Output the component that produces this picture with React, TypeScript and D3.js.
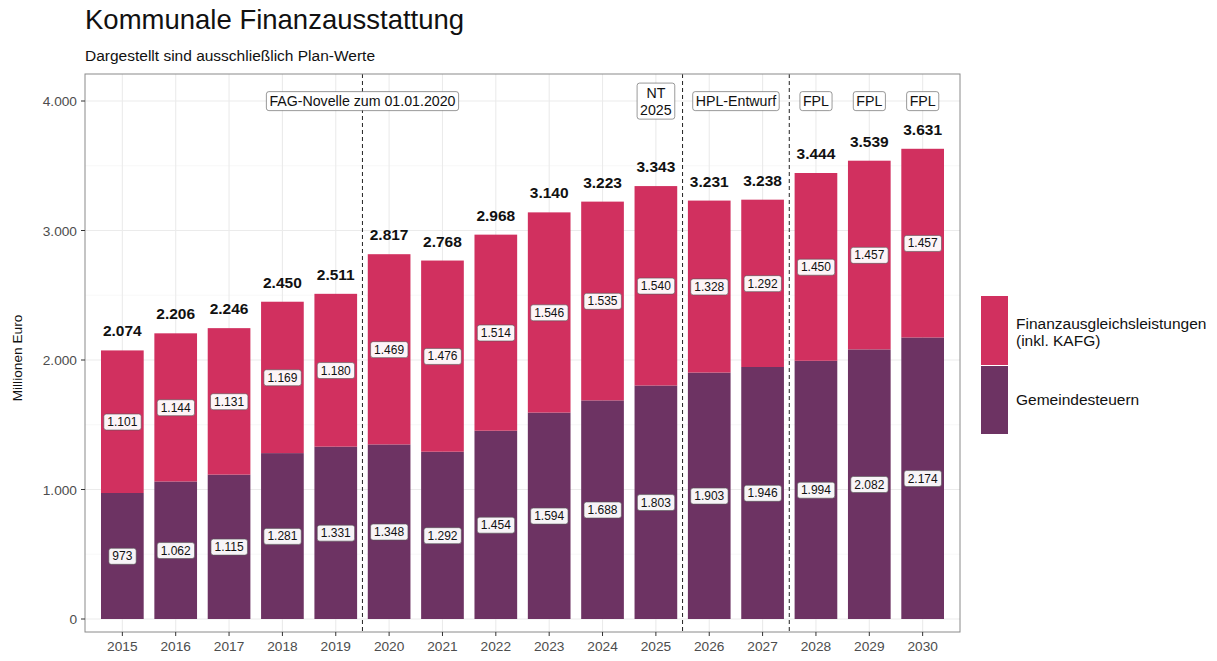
import { useEffect, useRef } from "react";
import * as d3 from "d3";

const years = ["2015", "2016", "2017", "2018", "2019", "2020", "2021", "2022", "2023", "2024", "2025", "2026", "2027", "2028", "2029", "2030"];
const gemeindesteuern = [973, 1062, 1115, 1281, 1331, 1348, 1292, 1454, 1594, 1688, 1803, 1903, 1946, 1994, 2082, 2174];
const finanzausgleich = [1101, 1144, 1131, 1169, 1180, 1469, 1476, 1514, 1546, 1535, 1540, 1328, 1292, 1450, 1457, 1457];
const yTicks = [0, 1000, 2000, 3000, 4000];
const dividers = [4.5, 10.5, 12.5]; // band index positions (between 2019/2020, 2025/2026, 2027/2028)
const notes = [
  { pos: 4.5, lines: ["FAG-Novelle zum 01.01.2020"] },
  { pos: 10, lines: ["NT", "2025"] },
  { pos: 11.5, lines: ["HPL-Entwurf"] },
  { pos: 13, lines: ["FPL"] },
  { pos: 14, lines: ["FPL"] },
  { pos: 15, lines: ["FPL"] },
];

const COL_FAG = "#d1305f";
const COL_GEM = "#6d3363";
const FONT = "'Liberation Sans', Arial, Helvetica, sans-serif";

const de = d3.formatLocale({ decimal: ",", thousands: ".", grouping: [3], currency: ["", " €"] });
const fmt = de.format(",d");

const App = () => {
  const svgRef = useRef<SVGSVGElement>(null);

  useEffect(() => {
    const svg = d3.select(svgRef.current);
    svg.selectAll("*").remove();
    svg.style("font-family", FONT);

    const left = 85, right = 960, top = 74, bottom = 632;
    const x = d3.scaleBand().domain(years).range([left, right]).paddingInner(0.2).paddingOuter(0.3);
    const step = x.step();
    const center = (i: number) => x(years[0])! + x.bandwidth() / 2 + i * step;
    const y = d3.scaleLinear().domain([0, 4000]).range([619, 101]);

    // panel background grid
    const minor = [500, 1500, 2500, 3500];
    svg.append("g").selectAll("line").data(minor).enter().append("line")
      .attr("x1", left).attr("x2", right).attr("y1", (d) => y(d)).attr("y2", (d) => y(d))
      .attr("stroke", "#f3f3f3").attr("stroke-width", 0.6);
    svg.append("g").selectAll("line").data(yTicks).enter().append("line")
      .attr("x1", left).attr("x2", right).attr("y1", (d) => y(d)).attr("y2", (d) => y(d))
      .attr("stroke", "#ebebeb").attr("stroke-width", 1.1);
    svg.append("g").selectAll("line").data(years).enter().append("line")
      .attr("x1", (d) => x(d)! + x.bandwidth() / 2).attr("x2", (d) => x(d)! + x.bandwidth() / 2)
      .attr("y1", top).attr("y2", bottom).attr("stroke", "#ebebeb").attr("stroke-width", 1.1);

    // bars
    const totals = years.map((_, i) => gemeindesteuern[i] + finanzausgleich[i]);
    svg.append("g").selectAll("rect").data(years).enter().append("rect")
      .attr("x", (d) => x(d)!).attr("width", x.bandwidth())
      .attr("y", (d, i) => y(gemeindesteuern[i])).attr("height", (d, i) => y(0) - y(gemeindesteuern[i]))
      .attr("fill", COL_GEM);
    svg.append("g").selectAll("rect").data(years).enter().append("rect")
      .attr("x", (d) => x(d)!).attr("width", x.bandwidth())
      .attr("y", (d, i) => y(totals[i])).attr("height", (d, i) => y(gemeindesteuern[i]) - y(totals[i]))
      .attr("fill", COL_FAG);

    // dashed dividers
    svg.append("g").selectAll("line").data(dividers).enter().append("line")
      .attr("x1", (d) => center(d)).attr("x2", (d) => center(d))
      .attr("y1", top).attr("y2", bottom)
      .attr("stroke", "#222").attr("stroke-width", 1).attr("stroke-dasharray", "4,3");

    // boxed label helper
    const boxLabel = (g: any, cx: number, cy: number, lines: string[], size: number, padX: number, padY: number) => {
      const grp = g.append("g");
      const lh = size * 1.2;
      const t = grp.append("text").attr("text-anchor", "middle").style("font-size", `${size}px`).attr("fill", "#111");
      lines.forEach((l, k) => {
        t.append("tspan").attr("x", cx).attr("y", cy + (k - (lines.length - 1) / 2) * lh + size * 0.36).text(l);
      });
      const bb = (t.node() as SVGTextElement).getBBox();
      grp.insert("rect", "text")
        .attr("x", bb.x - padX).attr("y", bb.y - padY)
        .attr("width", bb.width + 2 * padX).attr("height", bb.height + 2 * padY)
        .attr("rx", 2.5).attr("fill", "#fff").attr("fill-opacity", 0.95)
        .attr("stroke", "#555").attr("stroke-width", 0.6);
    };

    const labels = svg.append("g");
    years.forEach((_, i) => {
      boxLabel(labels, center(i), (y(0) + y(gemeindesteuern[i])) / 2, [fmt(gemeindesteuern[i])], 12, 3.5, 1);
      boxLabel(labels, center(i), (y(gemeindesteuern[i]) + y(totals[i])) / 2, [fmt(finanzausgleich[i])], 12, 3.5, 1);
    });

    // totals above bars
    svg.append("g").selectAll("text").data(years).enter().append("text")
      .attr("x", (d) => x(d)! + x.bandwidth() / 2).attr("y", (d, i) => y(totals[i]) - 14)
      .attr("text-anchor", "middle").style("font-size", "15.5px").style("font-weight", "bold").attr("fill", "#111")
      .text((d, i) => fmt(totals[i]));

    // notes
    const noteG = svg.append("g");
    notes.forEach((n) => boxLabel(noteG, center(n.pos), y(4000), n.lines, 14.2, 3, 1.5));

    // panel border
    svg.append("rect").attr("x", left).attr("y", top).attr("width", right - left).attr("height", bottom - top)
      .attr("fill", "none").attr("stroke", "#8a8a8a").attr("stroke-width", 1);

    // y axis
    const ya = svg.append("g");
    ya.selectAll("line").data(yTicks).enter().append("line")
      .attr("x1", left - 4).attr("x2", left).attr("y1", (d) => y(d)).attr("y2", (d) => y(d)).attr("stroke", "#333");
    ya.selectAll("text").data(yTicks).enter().append("text")
      .attr("x", left - 8).attr("y", (d) => y(d) + 5).attr("text-anchor", "end")
      .style("font-size", "13.7px").attr("fill", "#4d4d4d").text((d) => fmt(d));

    // x axis
    const xa = svg.append("g");
    xa.selectAll("line").data(years).enter().append("line")
      .attr("x1", (d) => x(d)! + x.bandwidth() / 2).attr("x2", (d) => x(d)! + x.bandwidth() / 2)
      .attr("y1", bottom).attr("y2", bottom + 4).attr("stroke", "#333");
    xa.selectAll("text").data(years).enter().append("text")
      .attr("x", (d) => x(d)! + x.bandwidth() / 2).attr("y", bottom + 19).attr("text-anchor", "middle")
      .style("font-size", "13.7px").attr("fill", "#4d4d4d").text((d) => d);

    svg.append("text").attr("transform", "rotate(-90)").attr("x", -358).attr("y", 22)
      .attr("text-anchor", "middle").style("font-size", "13.7px").attr("fill", "#111").text("Millionen Euro");

    // titles
    svg.append("text").attr("x", left).attr("y", 29).style("font-size", "27.5px").attr("fill", "#111").text("Kommunale Finanzausstattung");
    svg.append("text").attr("x", left).attr("y", 61).style("font-size", "15.5px").attr("fill", "#111").text("Dargestellt sind ausschließlich Plan-Werte");

    // legend
    const lg = svg.append("g");
    lg.append("rect").attr("x", 981).attr("y", 296).attr("width", 27).attr("height", 69).attr("fill", COL_FAG);
    lg.append("rect").attr("x", 981).attr("y", 366).attr("width", 27).attr("height", 68).attr("fill", COL_GEM);
    lg.append("text").attr("x", 1016).attr("y", 329).style("font-size", "15.5px").attr("fill", "#111").text("Finanzausgleichsleistungen");
    lg.append("text").attr("x", 1016).attr("y", 346).style("font-size", "15.5px").attr("fill", "#111").text("(inkl. KAFG)");
    lg.append("text").attr("x", 1016).attr("y", 405).style("font-size", "15.5px").attr("fill", "#111").text("Gemeindesteuern");
  }, []);

  return <svg ref={svgRef} width={1217} height={661} style={{ position: "absolute", left: 0, top: 0 }}></svg>;
};

export default App;
